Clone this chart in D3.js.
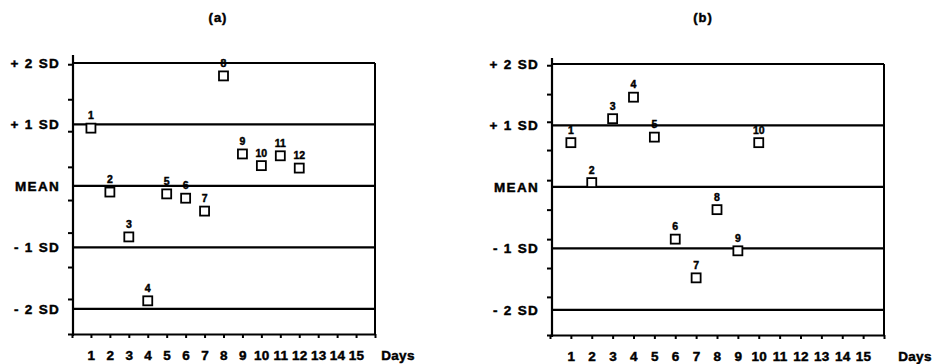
<!DOCTYPE html>
<html>
<head>
<meta charset="utf-8">
<script src="https://cdn.jsdelivr.net/npm/d3@7/dist/d3.min.js"></script>
<style>
  body { margin: 0; background: #fff; }
  text { font-family: "Liberation Sans", Arial, sans-serif; font-weight: bold; fill: #000;
         stroke: #000; stroke-width: 0.45px; }
</style>
</head>
<body>
<svg id="chart" width="937" height="364"></svg>
<script>
// data (values in SD units)
var daysA = [1, 2, 3, 4, 5, 6, 7, 8, 9, 10, 11, 12];
var sdA   = [0.94, -0.10, -0.83, -1.87, -0.13, -0.20, -0.41, 1.79, 0.52, 0.33, 0.49, 0.29];
var daysB = [1, 2, 3, 4, 5, 6, 7, 8, 9, 10];
var sdB   = [0.72, 0.07, 1.11, 1.46, 0.81, -0.85, -1.48, -0.37, -1.04, 0.72];

var sdLevels = [2, 1, 0, -1, -2];
var sdLabels = ["+ 2 SD", "+ 1 SD", "MEAN", "- 1 SD", "- 2 SD"];
var dayTicks = [0, 1, 2, 3, 4, 5, 6, 7, 8, 9, 10, 11, 12, 13, 14, 15, 16];
var yTicksA = [1.98, 1.41, 0.89, 0.31, -0.23, -0.76, -1.32, -1.84, -2.41];
var yTicksB = [1.98, 1.51, 1.06, 0.60, 0.11, -0.37, -0.85, -1.32, -1.79, -2.41];

var svg = d3.select("#chart");

function panel(cfg) {
    var x = d3.scaleLinear().domain([0, 16]).range(cfg.xr);
    var y = d3.scaleLinear().domain([-2.41, 2]).range(cfg.yr);
    var g = svg.append("g");
    var right = cfg.xr[1];

    g.append("text").attr("x", cfg.title[0]).attr("y", 22)
        .attr("text-anchor", "middle").style("font-size", "13px")
        .style("letter-spacing", "1px").text(cfg.name);

    // SD reference lines
    g.selectAll(".sd").data(sdLevels).enter().append("line")
        .attr("x1", cfg.ax).attr("x2", right)
        .attr("y1", function(d){ return y(d); }).attr("y2", function(d){ return y(d); })
        .attr("stroke", "#000").attr("stroke-width", 2.2);

    g.selectAll(".sdlab").data(sdLevels).enter().append("text")
        .attr("x", cfg.ax - 13).attr("y", function(d){ return y(d); })
        .attr("dy", "0.36em").attr("text-anchor", "end")
        .style("font-size", "13.5px").style("letter-spacing", "1.3px")
        .text(function(d, i){ return sdLabels[i]; });

    // right edge of box
    g.append("line").attr("x1", right).attr("x2", right)
        .attr("y1", y(2)).attr("y2", cfg.yr[0])
        .attr("stroke", "#000").attr("stroke-width", 2);

    // y axis
    var ya = g.append("g").attr("transform", "translate(" + cfg.ax + ",0)")
        .call(d3.axisLeft(y).tickValues(cfg.yt).tickSize(5).tickSizeOuter(0).tickFormat(""));
    ya.select(".domain").remove();
    ya.selectAll("line").attr("stroke-width", 2);
    g.append("line").attr("x1", cfg.ax).attr("x2", cfg.ax)
        .attr("y1", cfg.top).attr("y2", cfg.yr[0] + 2)
        .attr("stroke", "#000").attr("stroke-width", 2.2);

    // x axis
    var xa = g.append("g").attr("transform", "translate(0," + cfg.yr[0] + ")")
        .call(d3.axisBottom(x).tickValues(dayTicks).tickSize(4).tickSizeOuter(0).tickPadding(12)
            .tickFormat(function(d){ return d >= 1 && d <= 15 ? d : ""; }));
    xa.select(".domain").attr("stroke-width", 2.2);
    xa.selectAll("line").attr("stroke-width", 2);
    xa.selectAll("text").style("font-size", "13.5px").style("letter-spacing", "0.3px");
    g.append("text").attr("x", cfg.days).attr("y", cfg.yr[0] + 26)
        .attr("text-anchor", "middle").style("font-size", "13.5px").style("letter-spacing", "0.3px")
        .text("Days");

    // points
    var pts = g.selectAll(".pt").data(cfg.days_).enter().append("g");
    pts.append("rect")
        .attr("x", function(d, i){ return x(d) - 4.5; })
        .attr("y", function(d, i){ return y(cfg.sd[i]) - 4.5; })
        .attr("width", 9).attr("height", 9)
        .attr("fill", "#fff").attr("stroke", "#000").attr("stroke-width", 1.8);
    pts.append("text")
        .attr("x", function(d){ return x(d); })
        .attr("y", function(d, i){ return y(cfg.sd[i]) - 9; })
        .attr("text-anchor", "middle").style("font-size", "10.5px")
        .text(function(d){ return d; });
}

panel({ name: "(a)", title: [218], xr: [72, 375], yr: [334, 63], ax: 73, top: 55,
        yt: yTicksA, days: 398, days_: daysA, sd: sdA });
panel({ name: "(b)", title: [703], xr: [550, 884], yr: [335, 64], ax: 552, top: 58,
        yt: yTicksB, days: 915, days_: daysB, sd: sdB });
</script>
</body>
</html>
